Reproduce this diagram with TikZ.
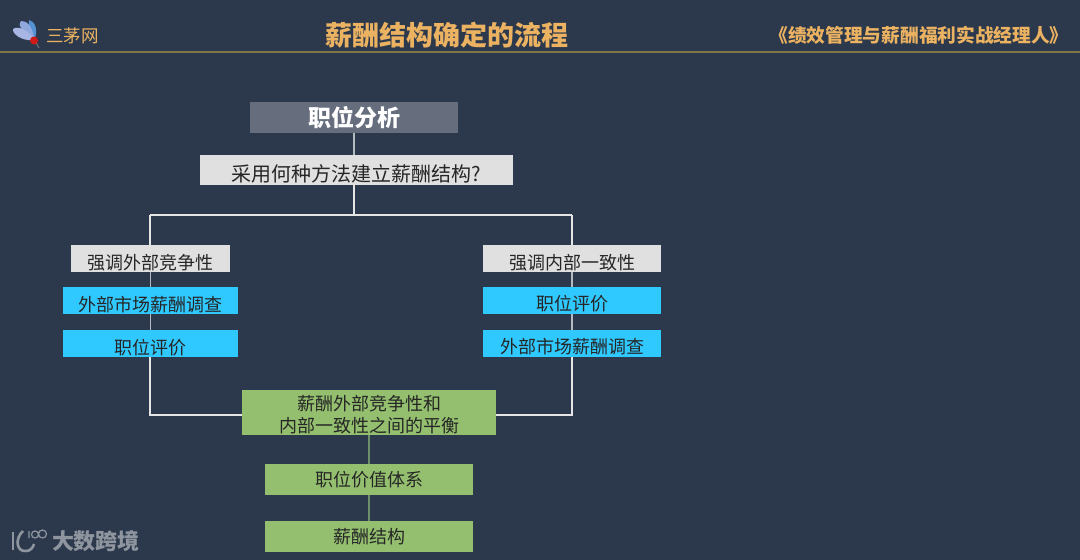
\documentclass[tikz,border=0pt]{standalone}
\usepackage{fontspec}
\usepackage{xcolor}
\setmainfont{Noto Sans CJK SC}
\usetikzlibrary{positioning}
\definecolor{pagebg}{HTML}{2C394C}
\definecolor{goldtxt}{HTML}{EBB262}
\definecolor{ruleline}{HTML}{7F7749}
\definecolor{slatebox}{HTML}{666E7E}
\definecolor{greybox}{HTML}{E0E0E0}
\definecolor{bluebox}{HTML}{2FC8FF}
\definecolor{greenbox}{HTML}{93BF6F}
\definecolor{greenline}{HTML}{6F8F69}
\definecolor{wmark}{HTML}{8E959E}
\newcommand{\dropped}[2]{\raisebox{-#1}[0pt][0pt]{#2}}

\begin{document}
\begin{tikzpicture}[x=1pt,y=-1pt,
  base/.style={inner sep=0pt,minimum height=#1},
  titletxt/.style={inner sep=0pt,text=goldtxt,font=\bfseries\fontsize{#1}{#1}\selectfont},
  headbox/.style={base=31pt,minimum width=208pt,fill=slatebox,text=white,font=\bfseries\fontsize{23}{23}\selectfont},
  askbox/.style={base=#1,fill=greybox,text=black!85,font=\fontsize{20}{20}\selectfont},
  focusbox/.style={base=27pt,fill=greybox,text=black!85,font=\fontsize{18}{18}\selectfont},
  stepbox/.style={base=26.5pt,fill=bluebox,text=black!85,font=\fontsize{18}{18}\selectfont},
  resultbox/.style={base=31pt,minimum width=208pt,fill=greenbox,text=black!85,font=\fontsize{18}{18}\selectfont},
  link/.style={draw=white!90!black,line width=1.6pt},
  softlink/.style={draw=white!65!pagebg,line width=1.6pt},
  greenlink/.style={draw=greenline,line width=1.4pt}]

  \useasboundingbox (0,0) rectangle (1080,560);
  \fill[pagebg] (0,0) rectangle (1080,560);

  % --- header ---
  \coordinate (ruleL) at (0,52); \coordinate (ruleR) at (1080,52);
  \draw[ruleline,line width=1.6pt] (ruleL) -- (ruleR);
  \node[titletxt=27] (title) at (446.5,35) {薪酬结构确定的流程};
  \node[titletxt=17.5,font=\fontsize{17.5}{17.5}\selectfont] (brand) at (72.5,36) {三茅网};
  \node[titletxt=18.7] (book) at (919,35.5) {《绩效管理与薪酬福利实战经理人》};

  % --- logo ---
  \draw[black!55,line width=1pt] (35,41) -- (39,48);
  \fill[cyan!55!blue!70!white] (33,39) .. controls (26,22) and (30,19) .. (29,20) .. controls (35,21) and (38,30) .. (35,38) -- cycle;
  \fill[cyan!45!blue!45!white] (33,39) .. controls (22,32) and (17,24) .. (21,21) .. controls (27,20) and (33,28) .. (34,38) -- cycle;
  \fill[cyan!40!blue!35!white] (32,40) .. controls (22,41) and (12,34) .. (13,29) .. controls (18,25) and (29,31) .. (33,38) -- cycle;
  \fill[red!80!black!90] (34,40.5) circle (4pt);

  % --- top of the flow ---
  \node[headbox] (jobanalysis) at (354,117.5) {\dropped{9pt}{职位分析}};
  \node[askbox=30pt,minimum width=313pt] (method) at (356.5,170) {\dropped{11pt}{采用何种方法建立薪酬结构?}};
  \coordinate (fork) at (354,215); \coordinate (forkL) at (150,215); \coordinate (forkR) at (572,215);

  % --- left branch ---
  \node[focusbox,minimum width=159pt] (extfocus) at (150.5,258.5) {\dropped{10.5pt}{强调外部竞争性}};
  \node[stepbox,minimum width=175pt] (extsurvey) at (150.5,300.5) {\dropped{11pt}{外部市场薪酬调查}};
  \node[stepbox,minimum width=175pt] (extrate) at (150.5,343.5) {\dropped{10.5pt}{职位评价}};

  % --- right branch ---
  \node[focusbox,minimum width=178pt] (intfocus) at (572,258.5) {\dropped{10.5pt}{强调内部一致性}};
  \node[stepbox,minimum width=178pt] (intrate) at (572,300.5) {\dropped{9.5pt}{职位评价}};
  \node[stepbox,minimum width=178pt] (intsurvey) at (572,343.5) {\dropped{9.5pt}{外部市场薪酬调查}};

  % --- results ---
  \node[base=45pt,minimum width=254pt,fill=greenbox,text=black!85,align=center,
    font=\fontsize{18}{22}\selectfont] (balance) at (369,412.5) {\rule{0pt}{19pt}薪酬外部竞争性和\\内部一致性之间的平衡};
  \node[resultbox] (valuesys) at (369,479.5) {\dropped{7pt}{职位价值体系}};
  \node[resultbox] (paystruct) at (369,536.5) {\dropped{7pt}{薪酬结构}};
  \coordinate (joinL) at (150,415); \coordinate (joinR) at (572,415);

  % --- connectors ---
  \draw[softlink] (jobanalysis.south) -- (jobanalysis.south |- method.north);
  \draw[link] (fork |- method.south) -- (fork);
  \draw[link] (forkL) -- (forkR);
  \draw[link] (forkL) -- (extfocus.north -| forkL);
  \draw[link] (forkR) -- (intfocus.north -| forkR);
  \draw[softlink] (extfocus) -- (extsurvey);
  \draw[softlink] (extsurvey) -- (extrate);
  \draw[softlink] (intfocus) -- (intrate);
  \draw[softlink] (intrate) -- (intsurvey);
  \draw[link] (extrate.south -| joinL) -- (joinL) -- (joinL -| balance.west);
  \draw[link] (intsurvey.south -| joinR) -- (joinR) -- (joinR -| balance.east);
  \draw[greenlink] (balance) -- (valuesys);
  \draw[greenlink] (valuesys) -- (paystruct);

  % --- watermark ---
  \draw[wmark,line width=2.6pt] (13,532) -- (13,550);
  \draw[wmark,line width=2.6pt] (23,531) .. controls (15,538) and (16,552) .. (26,551) .. controls (30,551) and (33,548) .. (34,544);
  \draw[wmark,line width=1.2pt] (29,531) -- (29,538) (35,534.5) circle (3.5pt) (42.5,534) circle (4pt);
  \node[inner sep=0pt,text=wmark,font=\bfseries\fontsize{22}{22}\selectfont] (wmarktxt) at (96,541) {大数跨境};
\end{tikzpicture}
\end{document}
